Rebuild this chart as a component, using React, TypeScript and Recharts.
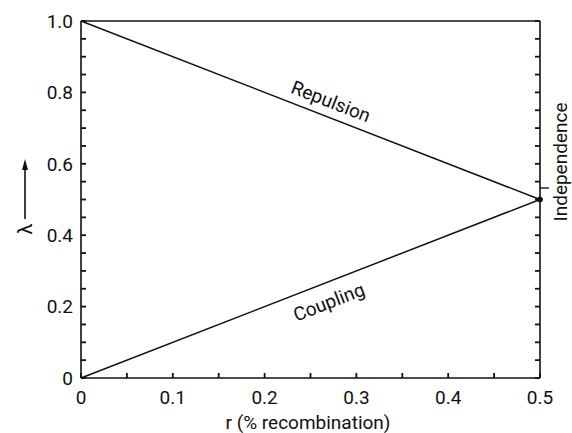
import React from "react";
import {
  LineChart,
  Line,
  XAxis,
  YAxis,
  ReferenceDot,
} from "recharts";

// Data
const rValues = [0, 0.5];
const repulsionValues = [1.0, 0.5];
const couplingValues = [0, 0.5];

const xTicks = [0, 0.05, 0.1, 0.15, 0.2, 0.25, 0.3, 0.35, 0.4, 0.45, 0.5];
const xTickLabels: Record<string, string> = {
  "0": "0",
  "0.1": "0.1",
  "0.2": "0.2",
  "0.3": "0.3",
  "0.4": "0.4",
  "0.5": "0.5",
};
const yTicks = [
  0, 0.05, 0.1, 0.15, 0.2, 0.25, 0.3, 0.35, 0.4, 0.45, 0.5, 0.55, 0.6, 0.65,
  0.7, 0.75, 0.8, 0.85, 0.9, 0.95, 1.0,
];
const yTickLabels: Record<string, string> = {
  "0": "0",
  "0.2": "0.2",
  "0.4": "0.4",
  "0.6": "0.6",
  "0.8": "0.8",
  "1": "1.0",
};

const xAxisTitle = "r (% recombination)";
const yAxisTitle = "λ";
const repulsionLabel = "Repulsion";
const couplingLabel = "Coupling";
const independenceLabel = "Independence";

const data = rValues.map((r, i) => ({
  r,
  repulsion: repulsionValues[i],
  coupling: couplingValues[i],
}));

const FONT = "Roboto, 'DejaVu Sans', sans-serif";
const INK = "#111";
const SLOPE_DEG = 21.25;
const TICK_LEN = 5;
const TICK_W = 1.8;
const X_MIN = 0;
const X_MAX = 0.5;
const Y_MIN = 0;
const Y_MAX = 1;

const XTick = (props: any) => {
  const { x, y, payload } = props;
  const lbl = xTickLabels[String(payload.value)];
  const ay = y - 13;
  return (
    <g>
      <path d={`M${x},${ay}V${ay - TICK_LEN}`} stroke={INK} strokeWidth={TICK_W} fill="none" />
      {lbl ? (
        <text x={x} y={y} dy="0.71em" textAnchor="middle" fontFamily={FONT} fontSize={19} fill={INK} stroke="none">
          {lbl}
        </text>
      ) : null}
    </g>
  );
};

const YTick = (props: any) => {
  const { x, y, payload } = props;
  const lbl = yTickLabels[String(payload.value)];
  const ax = x + 8;
  return (
    <g>
      <path d={`M${ax},${y}H${ax + TICK_LEN}`} stroke={INK} strokeWidth={TICK_W} fill="none" />
      <path d={`M540,${y}H${540 - TICK_LEN}`} stroke={INK} strokeWidth={TICK_W} fill="none" />
      {lbl ? (
        <text x={x} y={y} dy="0.355em" textAnchor="end" fontFamily={FONT} fontSize={19} fill={INK} stroke="none">
          {lbl}
        </text>
      ) : null}
    </g>
  );
};

const LambdaLabel = () => {
  const cx = 25;
  const ty = 229;
  return (
    <g>
      <text
        x={cx}
        y={ty}
        transform={`rotate(-90 ${cx} ${ty})`}
        textAnchor="middle"
        dy="0.35em"
        fontFamily={FONT}
        fontSize={20}
        fill={INK}
      >
        {yAxisTitle}
      </text>
      <line x1={cx} y1={ty - 10} x2={cx} y2={ty - 62} stroke={INK} strokeWidth={1.6} />
      <polygon
        points={`${cx},${ty - 70} ${cx - 3},${ty - 59} ${cx + 3},${ty - 59}`}
        fill={INK}
      />
    </g>
  );
};

const IndependenceLabel = () => {
  const cx = 560;
  const cy = 162;
  return (
    <g>
      <text
        x={cx}
        y={cy}
        transform={`rotate(-90 ${cx} ${cy})`}
        textAnchor="middle"
        dy="0.35em"
        fontFamily={FONT}
        fontSize={19}
        fill={INK}
      >
        {independenceLabel}
      </text>
      <line x1={540} y1={188} x2={549} y2={188} stroke={INK} strokeWidth={1.4} />
      <line x1={81} y1={21} x2={540} y2={21} stroke={INK} strokeWidth={1.6} />
    </g>
  );
};

const makeSlopeLabel = (text: string, angle: number) => (props: any) => {
  const vb = props.viewBox || { x: 0, y: 0, width: 0, height: 0 };
  const cx = vb.x + (vb.width || 0) / 2;
  const cy = vb.y + (vb.height || 0) / 2;
  return (
    <text
      x={cx}
      y={cy}
      transform={`rotate(${angle} ${cx} ${cy})`}
      textAnchor="middle"
      dy="0.35em"
      fontFamily={FONT}
      fontSize={19}
      fill={INK}
    >
      {text}
    </text>
  );
};

const XTitle = () => (
  <text x={308} y={422} textAnchor="middle" dy="0.35em" fontFamily={FONT} fontSize={19} fill={INK}>
    {xAxisTitle}
  </text>
);

export default function App() {
  return (
    <div style={{ position: "absolute", left: 0, top: 0, width: 572, height: 433, background: "#fff" }}>
      <LineChart
        width={572}
        height={433}
        data={data}
        margin={{ top: 21, right: 0, bottom: 0, left: 0 }}
      >
        <XAxis
          xAxisId="bottom"
          dataKey="r"
          type="number"
          domain={[X_MIN, X_MAX]}
          ticks={xTicks}
          interval={0}
          orientation="bottom"
          height={55}
          tickSize={0}
          tickMargin={13}
          tickLine={false}
          tick={XTick}
          axisLine={{ stroke: INK, strokeWidth: 1.6 }}
          label={<XTitle />}
        />
        <YAxis
          yAxisId="left"
          type="number"
          domain={[Y_MIN, Y_MAX]}
          ticks={yTicks}
          interval={0}
          orientation="left"
          width={81}
          tickSize={0}
          tickMargin={8}
          tickLine={false}
          tick={YTick}
          axisLine={{ stroke: INK, strokeWidth: 1.6 }}
          label={<LambdaLabel />}
        />
        <YAxis
          yAxisId="right"
          type="number"
          domain={[Y_MIN, Y_MAX]}
          orientation="right"
          width={32}
          tick={false}
          tickLine={false}
          axisLine={{ stroke: INK, strokeWidth: 1.6 }}
          label={<IndependenceLabel />}
        />
        <Line
          xAxisId="bottom"
          yAxisId="left"
          dataKey="repulsion"
          stroke={INK}
          strokeWidth={1.5}
          dot={false}
          isAnimationActive={false}
        />
        <Line
          xAxisId="bottom"
          yAxisId="left"
          dataKey="coupling"
          stroke={INK}
          strokeWidth={1.5}
          dot={false}
          isAnimationActive={false}
        />
        <ReferenceDot
          xAxisId="bottom"
          yAxisId="left"
          x={0.5}
          y={0.5}
          r={2.5}
          fill={INK}
          stroke={INK}
          ifOverflow="visible"
        />
        <ReferenceDot
          xAxisId="bottom"
          yAxisId="left"
          x={0.2723}
          y={0.775}
          r={0}
          fill="none"
          stroke="none"
          label={makeSlopeLabel(repulsionLabel, SLOPE_DEG)}
        />
        <ReferenceDot
          xAxisId="bottom"
          yAxisId="left"
          x={0.27}
          y={0.213}
          r={0}
          fill="none"
          stroke="none"
          label={makeSlopeLabel(couplingLabel, -SLOPE_DEG)}
        />
      </LineChart>
    </div>
  );
}
